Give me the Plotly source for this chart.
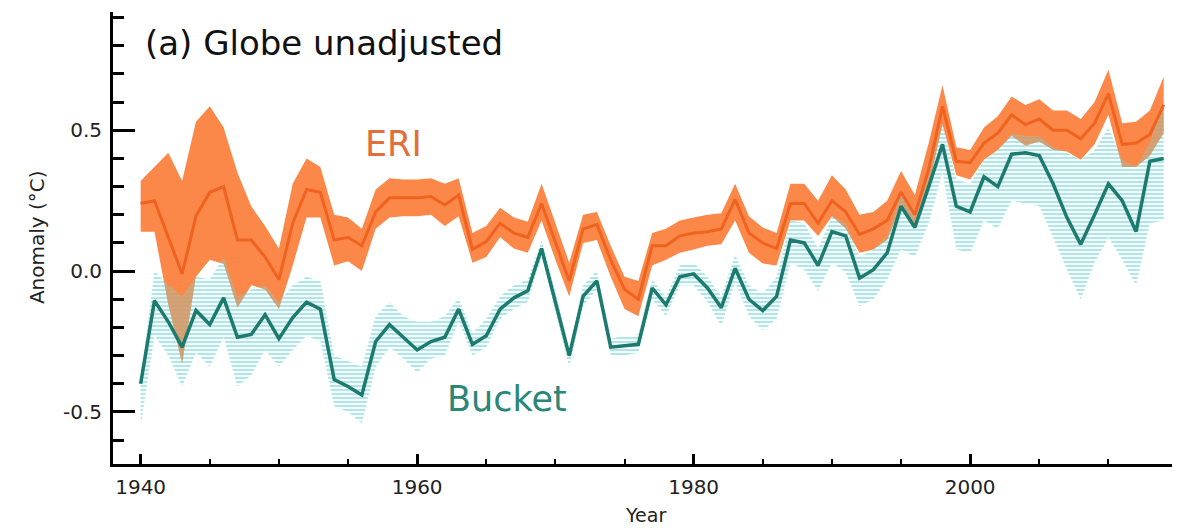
import plotly.graph_objects as go

years = list(range(1940, 2015))

eri_mean = [0.24, 0.25, 0.12, -0.01, 0.195, 0.28, 0.30, 0.11, 0.11, 0.05,
            -0.03, 0.17, 0.29, 0.28, 0.11, 0.12, 0.09, 0.21, 0.26, 0.26,
            0.26, 0.265, 0.235, 0.27, 0.077, 0.105, 0.17, 0.135, 0.12, 0.24,
            0.10, -0.035, 0.15, 0.165, 0.04, -0.065, -0.10, 0.09, 0.09, 0.125,
            0.135, 0.14, 0.15, 0.255, 0.135, 0.10, 0.08, 0.24, 0.24, 0.17,
            0.25, 0.21, 0.13, 0.15, 0.18, 0.28, 0.20, 0.36, 0.585, 0.39,
            0.385, 0.455, 0.49, 0.555, 0.52, 0.54, 0.50, 0.50, 0.47, 0.525,
            0.63, 0.45, 0.455, 0.485, 0.59]
eri_upper = [0.32, 0.37, 0.42, 0.32, 0.53, 0.585, 0.51, 0.35, 0.23, 0.16,
             0.08, 0.31, 0.40, 0.37, 0.20, 0.19, 0.15, 0.29, 0.33, 0.325,
             0.325, 0.33, 0.31, 0.33, 0.135, 0.16, 0.225, 0.19, 0.175, 0.31,
             0.17, 0.03, 0.20, 0.21, 0.09, -0.02, -0.035, 0.135, 0.15, 0.18,
             0.19, 0.20, 0.205, 0.31, 0.195, 0.155, 0.135, 0.31, 0.31, 0.25,
             0.34, 0.29, 0.20, 0.21, 0.25, 0.355, 0.27, 0.455, 0.66, 0.44,
             0.43, 0.51, 0.55, 0.62, 0.59, 0.61, 0.57, 0.57, 0.54, 0.60,
             0.715, 0.525, 0.53, 0.57, 0.69]
eri_lower = [0.14, 0.14, -0.12, -0.33, -0.02, 0.04, 0.025, -0.13, -0.05, -0.065,
             -0.135, 0.02, 0.19, 0.19, 0.02, 0.035, 0.0, 0.15, 0.19, 0.195,
             0.195, 0.20, 0.16, 0.195, 0.03, 0.05, 0.12, 0.08, 0.065, 0.18,
             0.04, -0.09, 0.10, 0.11, -0.02, -0.135, -0.16, 0.02, 0.04, 0.065,
             0.077, 0.09, 0.095, 0.18, 0.065, 0.027, 0.02, 0.18, 0.18, 0.125,
             0.195, 0.15, 0.065, 0.077, 0.11, 0.23, 0.16, 0.30, 0.52, 0.34,
             0.325, 0.395, 0.43, 0.48, 0.445, 0.46, 0.43, 0.425, 0.395, 0.45,
             0.555, 0.37, 0.37, 0.41, 0.49]

bucket_mean = [-0.40, -0.105, -0.18, -0.27, -0.14, -0.19, -0.095, -0.235, -0.225, -0.155,
               -0.24, -0.165, -0.11, -0.135, -0.385, -0.41, -0.44, -0.25, -0.19, -0.235,
               -0.28, -0.25, -0.235, -0.135, -0.26, -0.23, -0.135, -0.095, -0.07, 0.08,
               -0.11, -0.30, -0.09, -0.035, -0.27, -0.265, -0.26, -0.06, -0.12, -0.02,
               -0.01, -0.06, -0.13, 0.01, -0.10, -0.14, -0.09, 0.11, 0.10, 0.02,
               0.14, 0.125, -0.025, 0.005, 0.065, 0.23, 0.155, 0.30, 0.45, 0.23,
               0.21, 0.335, 0.30, 0.415, 0.42, 0.41, 0.31, 0.19, 0.095, 0.20,
               0.31, 0.25, 0.14, 0.39, 0.40]
bucket_upper = [-0.38, 0.0, -0.05, -0.09, -0.02, -0.03, 0.05, -0.09, -0.065, -0.05,
                -0.11, -0.05, -0.02, -0.035, -0.30, -0.32, -0.34, -0.16, -0.11, -0.16,
                -0.18, -0.18, -0.16, -0.095, -0.22, -0.17, -0.09, -0.05, -0.03, 0.11,
                -0.07, -0.28, -0.05, 0.0, -0.24, -0.23, -0.225, -0.03, -0.09, 0.02,
                0.03, -0.02, -0.09, 0.06, -0.05, -0.08, -0.02, 0.18, 0.17, 0.08,
                0.195, 0.17, 0.05, 0.077, 0.125, 0.28, 0.21, 0.36, 0.525, 0.325,
                0.31, 0.395, 0.43, 0.49, 0.48, 0.48, 0.44, 0.42, 0.395, 0.43,
                0.51, 0.395, 0.37, 0.455, 0.60]
bucket_lower = [-0.55, -0.23, -0.30, -0.41, -0.29, -0.34, -0.235, -0.41, -0.37, -0.28,
                -0.34, -0.28, -0.23, -0.25, -0.48, -0.50, -0.54, -0.34, -0.27, -0.31,
                -0.36, -0.31, -0.30, -0.18, -0.30, -0.27, -0.17, -0.135, -0.11, 0.05,
                -0.15, -0.34, -0.125, -0.065, -0.30, -0.30, -0.29, -0.10, -0.16, -0.05,
                -0.05, -0.11, -0.195, -0.04, -0.16, -0.21, -0.17, 0.03, 0.005, -0.07,
                0.03, -0.005, -0.125, -0.10, -0.03, 0.077, 0.05, 0.17, 0.35, 0.077,
                0.065, 0.18, 0.15, 0.25, 0.24, 0.23, 0.12, 0.005, -0.10, 0.03,
                0.12, 0.04, -0.05, 0.17, 0.18]

x_tick_vals = [1940, 1960, 1980, 2000]
x_tick_text = ["1940", "1960", "1980", "2000"]
y_tick_vals = [-0.5, 0.0, 0.5]
y_tick_text = ["-0.5", "0.0", "0.5"]

FONT = "DejaVu Sans"
ERI_BAND = "#FB8848"
ERI_LINE = "#F0621F"
ERI_TEXT = "#E46E3A"
BUCKET_LINE = "#1C7A6F"
BUCKET_TEXT = "#2A8778"
HATCH = "rgba(70,196,200,0.9)"

fig = go.Figure()

# ERI uncertainty band
fig.add_trace(go.Scatter(x=years, y=eri_upper, mode="lines", line=dict(width=0),
                         showlegend=False, hoverinfo="skip"))
fig.add_trace(go.Scatter(x=years, y=eri_lower, mode="lines", line=dict(width=0),
                         fill="tonexty", fillcolor=ERI_BAND, showlegend=False,
                         hoverinfo="skip"))

# Bucket uncertainty band (hatched)
fig.add_trace(go.Scatter(x=years, y=bucket_upper, mode="lines", line=dict(width=0),
                         showlegend=False, hoverinfo="skip"))
fig.add_trace(go.Scatter(x=years, y=bucket_lower, mode="lines", line=dict(width=0),
                         fill="tonexty", fillcolor="rgba(255,255,255,0)",
                         fillpattern=dict(shape="-", fgcolor=HATCH,
                                          bgcolor="rgba(200,240,240,0.15)",
                                          size=4, solidity=0.45),
                         showlegend=False, hoverinfo="skip"))

# Mean lines
fig.add_trace(go.Scatter(x=years, y=eri_mean, mode="lines", name="ERI",
                         line=dict(color=ERI_LINE, width=3), showlegend=False))
fig.add_trace(go.Scatter(x=years, y=bucket_mean, mode="lines", name="Bucket",
                         line=dict(color=BUCKET_LINE, width=3.5), showlegend=False))

fig.add_annotation(x=1940.2, y=0.81, xref="x", yref="y", text="(a) Globe unadjusted",
                   showarrow=False, xanchor="left", yanchor="middle",
                   font=dict(family=FONT, size=34, color="#111111"))
fig.add_annotation(x=1956.1, y=0.45, xref="x", yref="y", text="ERI",
                   showarrow=False, xanchor="left", yanchor="middle",
                   font=dict(family=FONT, size=35, color=ERI_TEXT))
fig.add_annotation(x=1962.0, y=-0.455, xref="x", yref="y", text="Bucket",
                   showarrow=False, xanchor="left", yanchor="middle",
                   font=dict(family=FONT, size=35, color=BUCKET_TEXT))
fig.add_annotation(x=-0.0718, y=0.502, xref="paper", yref="paper", text="Anomaly (°C)",
                   textangle=-90, showarrow=False, xanchor="center", yanchor="middle",
                   font=dict(family=FONT, size=20, color="#222222"))
fig.add_annotation(x=0.5024, y=-0.113, xref="paper", yref="paper", text="Year",
                   showarrow=False, xanchor="center", yanchor="middle",
                   font=dict(family=FONT, size=19, color="#222222"))

fig.update_layout(
    width=1188, height=530,
    margin=dict(l=113, r=16, t=12, b=66),
    paper_bgcolor="white", plot_bgcolor="white",
    font=dict(family=FONT, size=20, color="#222222"),
    showlegend=False,
)
fig.update_xaxes(
    range=[1938.0, 2014.6], showgrid=False, zeroline=False,
    showline=True, linecolor="black", linewidth=3, mirror=False,
    tickmode="array", tickvals=x_tick_vals, ticktext=x_tick_text,
    ticks="inside", ticklen=10, tickwidth=3, tickcolor="black",
    ticklabelstandoff=3,
    tickfont=dict(family=FONT, size=20, color="#222222"),
    minor=dict(tickmode="linear", tick0=1940, dtick=5, ticks="inside",
               ticklen=5, tickwidth=2, tickcolor="black", showgrid=False),
)
fig.update_yaxes(
    range=[-0.685, 0.92], showgrid=False, zeroline=False,
    showline=True, linecolor="black", linewidth=3, mirror=False,
    tickmode="array", tickvals=y_tick_vals, ticktext=y_tick_text,
    ticks="inside", ticklen=22, tickwidth=3, tickcolor="black",
    ticklabelstandoff=4,
    tickfont=dict(family=FONT, size=20, color="#222222"),
    minor=dict(tickmode="linear", tick0=0, dtick=0.1, ticks="inside",
               ticklen=11, tickwidth=3, tickcolor="black", showgrid=False),
)

fig.write_html("out.html")
